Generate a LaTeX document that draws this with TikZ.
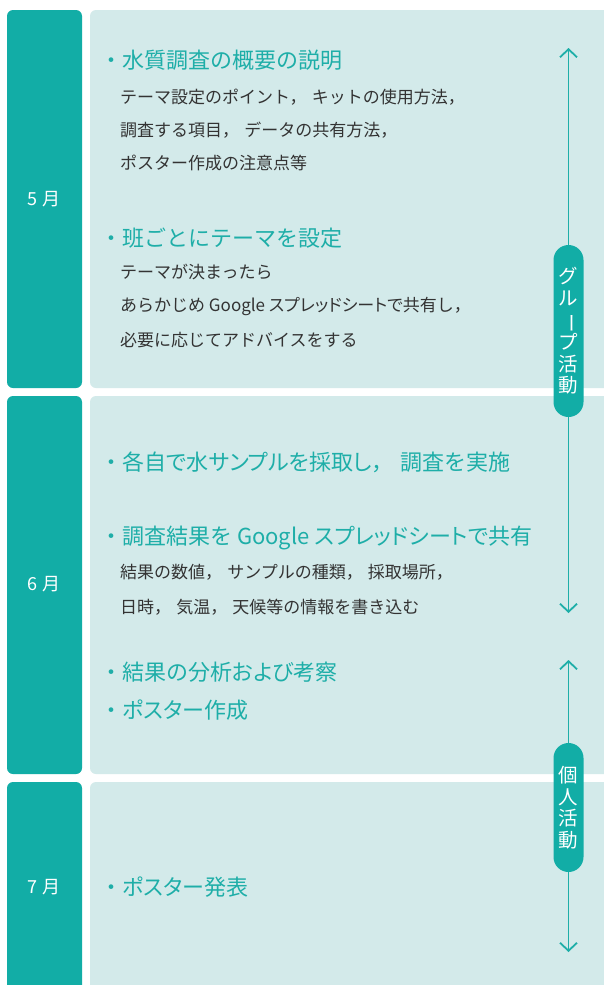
\documentclass[tikz,border=0pt]{standalone}
\usepackage{fontspec}
\usepackage{graphicx}
\setmainfont{Noto Sans CJK JP}
\usetikzlibrary{arrows.meta}
\definecolor{tealbox}{HTML}{12ADA6}
\definecolor{pale}{HTML}{D3EAEA}
\definecolor{tealtxt}{HTML}{1EAEA8}
\definecolor{ink}{HTML}{333333}
\newcommand{\cma}{，\hspace{0.3em}}
\newcommand{\pk}[1]{{\addfontfeature{RawFeature=+palt}#1}}
\tikzset{
  monthbox/.style={fill=tealbox, rounded corners=6pt},
  panelbox/.style={fill=pale, rounded corners=6pt},
  monthlabel/.style={text=white, font=\fontsize{18}{20}\selectfont, inner sep=0},
  headtxt/.style={text=tealtxt, font=\fontsize{22}{25}\selectfont, anchor=west, inner sep=0},
  subtxt/.style={text=ink, font=\fontsize{17}{20}\selectfont, anchor=west, inner sep=0},
  pill/.style={fill=tealbox, text=white, rounded corners=15pt, minimum width=30pt, inner sep=0,
    align=center, font=\fontsize{19.5}{21.5}\selectfont},
  spanarrow/.style={draw=tealtxt, line width=1.8pt, -{Straight Barb[length=8pt,width=17pt,line width=1.8pt]}}
}
\begin{document}
\begin{tikzpicture}[x=1pt,y=-1pt]
\clip (0,0) rectangle (604,985);
\fill[white] (0,0) rectangle (604,985);
% month column
\fill[monthbox] (7,10) rectangle (82,388);
\fill[monthbox] (7,396) rectangle (82,774);
\fill[monthbox] (7,782) rectangle (82,1010);
% panels
\fill[panelbox] (90,10) rectangle (630,388);
\fill[panelbox] (90,396) rectangle (630,774);
\fill[panelbox] (90,782) rectangle (630,1010);
% month labels
\node[monthlabel] (m5) at (44,199) {5 月};
\node[monthlabel] (m6) at (44,584) {6 月};
\node[monthlabel] (m7) at (44,887) {7 月};
% May
\node[headtxt] (h1) at (100,60) {・水質調査の概要の説明};
\node[subtxt] (s1a) at (120,97) {テーマ設定のポイント\cma キットの使用方法，};
\node[subtxt] (s1b) at (120,130) {調査する項目\cma データの共有方法，};
\node[subtxt] (s1c) at (120,163) {ポスター作成の注意点等};
\node[headtxt] (h2) at (100,238) {・班ごとにテーマを設定};
\node[subtxt] (s2a) at (120,272) {テーマが決まったら};
\node[subtxt] (s2b) at (120,306) {あらかじめ Google \pk{スプレッドシートで}共有し，};
\node[subtxt] (s2c) at (120,340) {必要に応じてアドバイスをする};
% June
\node[headtxt] (h3) at (100,462) {・\pk{各自で水サンプルを採取し}\cma 調査を実施};
\node[headtxt] (h4) at (100,538) {・調査結果を Google \pk{スプレッドシートで}共有};
\node[subtxt] (s4a) at (120,572) {結果の数値\cma サンプルの種類\cma 採取場所，};
\node[subtxt] (s4b) at (120,607) {日時\cma 気温\cma 天候等の情報を書き込む};
\node[headtxt] (h5) at (100,672) {・結果の分析\pk{および}考察};
\node[headtxt] (h6) at (100,710) {・\pk{ポスター}作成};
% July
\node[headtxt] (h7) at (100,887) {・\pk{ポスター}発表};
% activity spans
\coordinate (g top) at (568.5,48);
\coordinate (g bot) at (568.5,613);
\coordinate (i top) at (568.5,660);
\coordinate (i bot) at (568.5,952);
\node[pill, minimum height=172pt] (grp) at (568.5,331)
  {グ\\ル\\\rotatebox[origin=c]{-90}{ー}\\プ\\活\\動};
\node[pill, minimum height=129pt] (ind) at (568.5,807.5)
  {個\\人\\活\\動};
\draw[spanarrow] (grp.north) -- (g top);
\draw[spanarrow] (grp.south) -- (g bot);
\draw[spanarrow] (ind.north) -- (i top);
\draw[spanarrow] (ind.south) -- (i bot);
\end{tikzpicture}
\end{document}
